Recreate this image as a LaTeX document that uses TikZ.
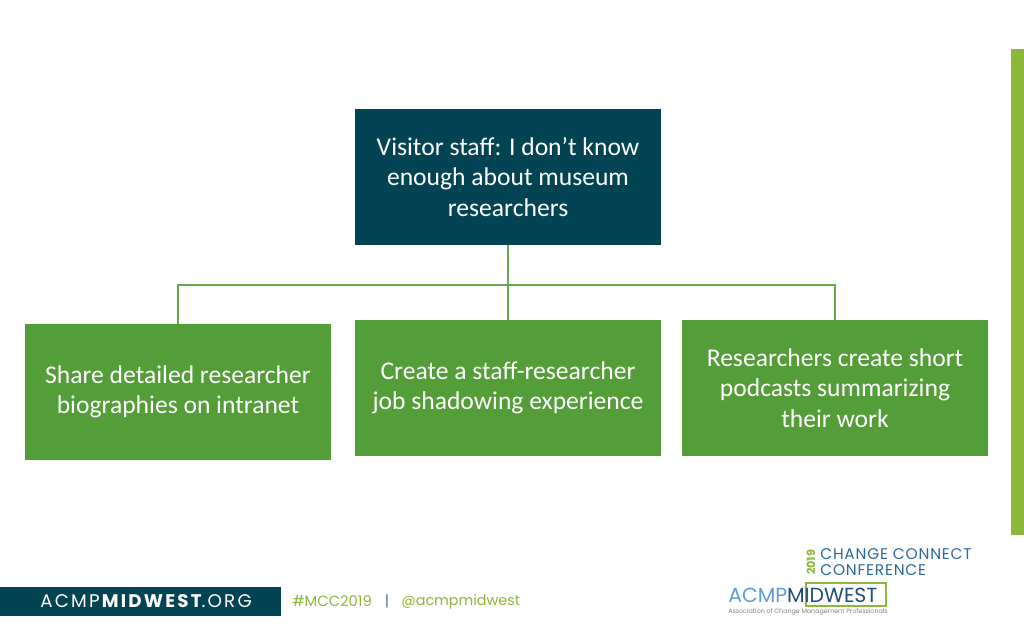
\documentclass[tikz,border=0pt]{standalone}
\usepackage{fontspec}
\setmainfont{Carlito}
\newfontfamily\footfont{Poppins}
\usetikzlibrary{positioning}
\definecolor{teal}{HTML}{024453}
\definecolor{boxgreen}{HTML}{549E39}
\definecolor{lime}{HTML}{8BB73B}
\definecolor{logoblue}{HTML}{2C68A0}
\definecolor{lightblue}{HTML}{5C9CD6}
\definecolor{darkblue}{HTML}{1F4E79}
\tikzset{
  box/.style={minimum width=306*0.025cm, minimum height=136*0.025cm, inner sep=0pt,
    align=center, text=white, font=\fontsize{18.2}{21.6}\selectfont},
  wire/.style={draw=boxgreen!90!white, line width=0.9pt}
}
\begin{document}
\begin{tikzpicture}[x=0.025cm,y=-0.025cm]
\useasboundingbox (0,0) rectangle (1024,640);
\fill[lime] (1011,49) rectangle (1024,535);
\node[box, fill=teal] (top) at (508,177) {Visitor staff: I don’t know\\enough about museum\\researchers};
\node[box, fill=boxgreen] (share) at (178,392) {Share detailed researcher\\biographies on intranet};
\node[box, fill=boxgreen] (shadow) at (508,388) {Create a staff-researcher\\job shadowing experience};
\node[box, fill=boxgreen] (podcast) at (835,388) {Researchers create short\\podcasts summarizing\\their work};
\coordinate (bus) at (508,285);
\draw[wire] (top) -- (bus);
\draw[wire] (share.north) |- (bus) -| (podcast.north);
\draw[wire] (bus) -- (shadow.north);
%footer
\fill[teal] (0,587) rectangle (281,616);
\node[text=white, font=\footfont\fontsize{13}{13}\selectfont\addfontfeatures{LetterSpace=12}] (site) at (146,601.5) {ACMP\textbf{MIDWEST}.ORG};
\node[text=lime, font=\footfont\fontsize{10.5}{12}\selectfont, anchor=west, inner sep=0pt] (tag) at (292,601.5) {\#MCC2019};
\node[text=teal!70, font=\footfont\fontsize{10.5}{12}\selectfont, inner sep=0pt] (bar) at (387,601.5) {|};
\node[text=lime, font=\footfont\fontsize{10.2}{12}\selectfont, anchor=west, inner sep=0pt] (handle) at (401,601.5) {@acmpmidwest};
%logo
\node[text=lime, font=\footfont\bfseries\fontsize{8}{8}\selectfont, rotate=90, inner sep=0pt] (year) at (811,562.5) {2019};
\node[text=logoblue, font=\footfont\fontsize{11}{11}\selectfont\addfontfeatures{LetterSpace=5}, anchor=west, inner sep=0pt] (conf1) at (820,554) {CHANGE CONNECT};
\node[text=logoblue, font=\footfont\fontsize{11}{11}\selectfont\addfontfeatures{LetterSpace=5}, anchor=west, inner sep=0pt] (conf2) at (820,570) {CONFERENCE};
\draw[lime, line width=1.2pt] (806,583) rectangle (886,606);
\node[font=\footfont\fontsize{14.5}{14.5}\selectfont, anchor=west, inner sep=0pt] (logo) at (728,595) {\textcolor{lightblue}{ACMP}\textcolor{darkblue}{MIDWEST}};
\node[text=gray, font=\footfont\fontsize{4.5}{5}\selectfont, anchor=west, inner sep=0pt] (assoc) at (728,612) {Association of Change Management Professionals};
\end{tikzpicture}
\end{document}
